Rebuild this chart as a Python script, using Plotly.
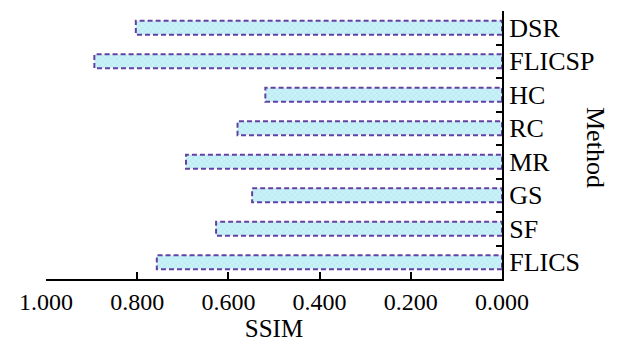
import plotly.graph_objects as go

methods = ["FLICS", "SF", "GS", "MR", "RC", "HC", "FLICSP", "DSR"]
ssim = [0.757, 0.627, 0.548, 0.693, 0.580, 0.519, 0.894, 0.803]
x_ticks = [1.0, 0.8, 0.6, 0.4, 0.2, 0.0]

BAR_W = 0.42
FONT = "Liberation Serif, Times New Roman, serif"

fig = go.Figure()
fig.add_trace(go.Bar(
    y=methods, x=ssim, orientation="h", width=BAR_W,
    marker=dict(color="#c4eff6", line=dict(width=0),
                pattern=dict(shape="x", size=4, solidity=0.25,
                             fgcolor="#9bd9e6", bgcolor="#c8f1f8")),
    showlegend=False, hoverinfo="skip"))

for i, v in enumerate(ssim):
    fig.add_shape(type="rect", xref="x", yref="y",
                  x0=0, x1=v, y0=i - BAR_W / 2, y1=i + BAR_W / 2,
                  line=dict(color="#6540a3", width=2, dash="5px,3px"),
                  fillcolor="rgba(0,0,0,0)", layer="above")

fig.update_layout(
    width=617, height=343,
    margin=dict(l=46, r=115, t=11, b=59),
    plot_bgcolor="white", paper_bgcolor="white",
    font=dict(family=FONT, size=24, color="black"),
    bargap=0.58,
    xaxis=dict(range=[1.0, 0.0], tickvals=x_ticks, tickformat=".3f",
               showgrid=False, zeroline=False, showline=True,
               linecolor="black", linewidth=2, ticks="inside",
               ticklen=7, tickwidth=2, tickcolor="black",
               tickfont=dict(size=24),
               title=dict(text="SSIM", font=dict(size=25), standoff=0)),
    yaxis=dict(categoryorder="array", categoryarray=methods,
               side="right", showgrid=False, zeroline=False, showline=True,
               linecolor="black", linewidth=2, ticks="inside",
               tickson="boundaries", ticklen=6, tickwidth=2,
               tickcolor="black", tickfont=dict(size=26),
               range=[-0.5, len(methods) - 0.5]),
    annotations=[dict(text="Method", textangle=90, xref="paper", yref="paper",
                      x=1.0, xanchor="center", yanchor="middle",
                      xshift=94, y=0.5, yshift=-2, showarrow=False,
                      font=dict(size=26, family=FONT))],
)

fig.write_html("out.html")
